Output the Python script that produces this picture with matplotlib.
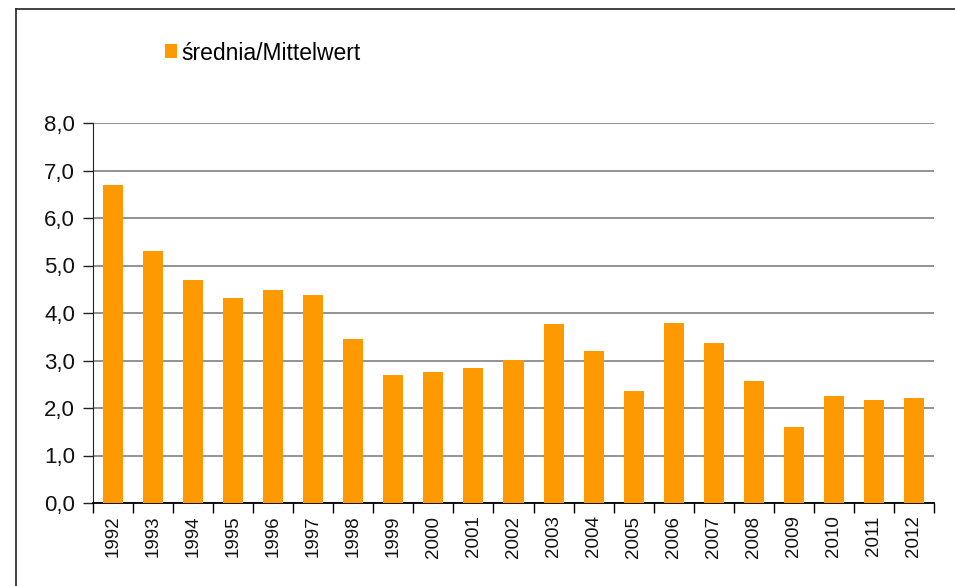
import matplotlib
matplotlib.use("Agg")
import matplotlib.pyplot as plt
from matplotlib.lines import Line2D
from matplotlib.ticker import FixedLocator, FuncFormatter
import numpy as np

years = ["1992", "1993", "1994", "1995", "1996", "1997", "1998", "1999", "2000", "2001",
         "2002", "2003", "2004", "2005", "2006", "2007", "2008", "2009", "2010", "2011", "2012"]
values = [6.70, 5.31, 4.70, 4.32, 4.49, 4.38, 3.46, 2.70, 2.76, 2.84,
          3.01, 3.77, 3.20, 2.36, 3.79, 3.37, 2.57, 1.60, 2.25, 2.17, 2.21]
series_name = "średnia/Mittelwert"
y_ticks = [0, 1, 2, 3, 4, 5, 6, 7, 8]

W, H = 955, 586
fig = plt.figure(figsize=(W / 100, H / 100), dpi=100)
plt.rcParams['font.family'] = ['Liberation Sans', 'DejaVu Sans']

# outer frame (top and left edges visible)
fig.add_artist(Line2D([16 / W, 16 / W], [0, 1 - 9 / H], transform=fig.transFigure, color="#222222", lw=1.2))
fig.add_artist(Line2D([16 / W, 1], [1 - 9 / H, 1 - 9 / H], transform=fig.transFigure, color="#222222", lw=1.2))

left, right, top, bottom = 93, 934, 123, 503
ax = fig.add_axes([left / W, 1 - bottom / H, (right - left) / W, (bottom - top) / H])

x = np.arange(len(years))
bars = ax.bar(x, values, width=0.5, color="#FF9900", zorder=3, label=series_name)

ax.set_xlim(-0.5, len(years) - 0.5)
ax.set_ylim(0, 8)
ax.yaxis.set_major_locator(FixedLocator(y_ticks))
ax.yaxis.set_major_formatter(FuncFormatter(lambda v, p: f"{v:.1f}".replace(".", ",")))
ax.grid(axis="y", color="#808080", lw=1.2, zorder=0)
ax.set_axisbelow(True)

for s in ["top", "right"]:
    ax.spines[s].set_visible(False)
ax.spines["left"].set_color("#222222")
ax.spines["bottom"].set_color("black")
ax.spines["bottom"].set_linewidth(1.3)

ax.tick_params(axis="y", length=7, width=1, color="#222222", labelsize=16, pad=6, labelcolor="#111111")
# x major ticks at boundaries, labels at minor (centres)
ax.set_xticks(np.arange(-0.5, len(years), 1.0))
ax.set_xticklabels([])
ax.tick_params(axis="x", which="major", length=7, width=1, color="black")
ax.set_xticks(x, minor=True)
ax.set_xticklabels(years, minor=True, rotation=90, fontsize=13.5, color="#111111")
ax.tick_params(axis="x", which="minor", length=0, pad=9)

leg = fig.legend(handles=[bars], labels=[series_name], loc="center left",
                 bbox_to_anchor=(144 / W, 1 - 53 / H), frameon=False,
                 fontsize=16.5, handlelength=0.55, handleheight=0.55, handletextpad=0.2)

fig.savefig("out.png", dpi=100)
